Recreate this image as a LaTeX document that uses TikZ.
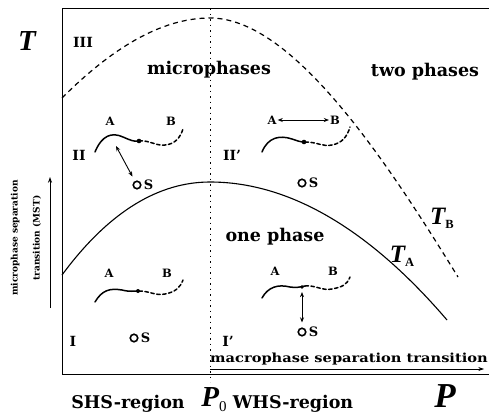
\documentclass[tikz,border=0pt]{standalone}
\usepackage{fontspec}
\setmainfont{DejaVu Serif}
\newfontfamily\symbolfont{Liberation Serif}
\usetikzlibrary{
    arrows.meta,
    positioning
}

\begin{document}
\begin{tikzpicture}[
        x=1pt, y=-1pt,
        every node/.style={font=\bfseries\fontsize{13pt}{15pt}\selectfont, inner sep=1pt},
        phase/.style={font=\bfseries\fontsize{17.5pt}{20pt}\selectfont},
        region/.style={font=\bfseries\fontsize{17.5pt}{20pt}\selectfont},
        roman/.style={font=\bfseries\fontsize{14pt}{16pt}\selectfont},
        monomer/.style={font=\bfseries\fontsize{11.5pt}{13pt}\selectfont},
        bigsym/.style={font=\symbolfont\bfseries\itshape\fontsize{29pt}{32pt}\selectfont},
        curvelabel/.style={font=\symbolfont\bfseries\itshape\fontsize{25pt}{28pt}\selectfont},
        sidelabel/.style={
            rotate=90,
            align=center,
            font=\bfseries\fontsize{9pt}{22pt}\selectfont
        },
        solvent/.style={
            circle,
            draw,
            line width=1.6pt,
            minimum size=7.5pt,
            inner sep=0pt
        },
        arrow/.style={
            {Stealth[length=1.8mm,width=1.4mm]}-{Stealth[length=1.8mm,width=1.4mm]},
            line width=0.9pt
        },
        axisarrow/.style={
            -{Stealth[length=2mm,width=1.4mm]},
            line width=0.9pt
        },
        chain/.style={line width=1.5pt, line cap=round},
        block/.style={chain, dash pattern=on 3.5pt off 2.5pt},
        boundary/.style={line width=1pt}
    ]

    \useasboundingbox (0,0) rectangle (489,415);

    % frame and axes
    \coordinate (origin) at (62,374);
    \coordinate (topleft) at (62,8);
    \coordinate (topright) at (489,8);
    \coordinate (bottomright) at (489,374);
    \draw[boundary] (bottomright) -- (origin) -- (topleft) -- (topright);

    \coordinate (ptop) at (210,8);
    \coordinate (pbottom) at (210,382);
    \draw[line width=0.8pt, dash pattern=on 1.5pt off 4pt] (ptop) -- (pbottom);

    % phase boundaries
    \draw[line width=1.2pt, dash pattern=on 5pt off 4pt]
        (62,98) .. controls (110,50) and (160,18) .. (210,18)
        .. controls (290,18) and (380,150) .. (458,277);
    \draw[line width=1.1pt]
        (62,275) .. controls (110,210) and (160,182) .. (210,182)
        .. controls (290,182) and (370,230) .. (447,320);

    \node[curvelabel] (tb) at (442,218)
        {T\raisebox{-4pt}{\fontsize{12.5pt}{12pt}\selectfont\upshape B}};
    \node[curvelabel] (ta) at (402,256)
        {T\raisebox{-4pt}{\fontsize{12.5pt}{12pt}\selectfont\upshape A}};

    % axis labels
    \node[bigsym] (taxis) at (27,41) {T};
    \node[bigsym, inner sep=0pt, font=\symbolfont\bfseries\itshape\fontsize{35pt}{38pt}\selectfont]
        (paxis) at (445,396) {P};
    \node[region] (shs) at (128,404) {SHS-region};
    \node[bigsym, font=\symbolfont\bfseries\itshape\fontsize{29pt}{32pt}\selectfont]
        (pzero) at (214,400) {P\raisebox{-5pt}{\fontsize{15pt}{15pt}\selectfont\upshape\mdseries 0}};
    \node[region] (whs) at (293,404) {WHS-region};

    \node[sidelabel] (mst) at (26,238) {microphase separation\\transition (MST)};
    \coordinate (mstlow) at (50,308);
    \coordinate (msthigh) at (50,177);
    \draw[axisarrow] (mstlow) -- (msthigh);

    \node[font=\bfseries\fontsize{12.5pt}{14pt}\selectfont, anchor=south west, inner sep=0pt]
        (macro) at (210,365) {\scalebox{1.17}[1]{macrophase separation transition}};
    \coordinate (macrolow) at (210,369);
    \coordinate (macrohigh) at (484,369);
    \draw[axisarrow, line width=0.7pt] (macrolow) -- (macrohigh);

    % region names
    \node[phase] (micro) at (209,70) {microphases};
    \node[phase] (twoph) at (425,72) {two phases};
    \node[phase] (oneph) at (275,237) {one phase};

    \node[roman] (rIII) at (83,42) {III};
    \node[roman] (rII) at (79,155) {II};
    \node[roman] (rIIp) at (232,155) {II'};
    \node[roman] (rI) at (73,341) {I};
    \node[roman] (rIp) at (228,341) {I'};

    % region II
    \node[monomer] (aII) at (110,121) {A};
    \node[monomer] (bII) at (171,121) {B};
    \draw[chain] (95,152) .. controls (102,135) and (112,132) .. (123,137)
        .. controls (130,140) and (134,142) .. (139,141);
    \fill (139,141) circle (2.3pt);
    \draw[block] (139,141) .. controls (150,140) and (155,146) .. (165,145)
        .. controls (175,144) and (180,138) .. (183,129);
    \node[solvent] (sII) at (137,185) {};
    \node[right=1pt of sII] (sIIlabel) {S};
    \coordinate (jII) at (116,146);
    \draw[arrow, shorten >=5pt] (jII) -- (sII);

    % region II'
    \node[monomer] (aIIp) at (272,120) {A};
    \node[monomer] (bIIp) at (335,120) {B};
    \draw[arrow] (aIIp) -- (bIIp);
    \draw[chain] (262,152) .. controls (268,137) and (280,135) .. (292,139)
        .. controls (298,141) and (300,142) .. (305,142);
    \fill (304,142) circle (2.3pt);
    \draw[block] (305,142) .. controls (318,142) and (322,147) .. (332,145)
        .. controls (342,143) and (347,137) .. (350,127);
    \node[solvent] (sIIp) at (302,183) {};
    \node[right=1pt of sIIp] (sIIplabel) {S};

    % region I
    \node[monomer] (aI) at (109,273) {A};
    \node[monomer] (bI) at (167,273) {B};
    \draw[chain] (95,302) .. controls (102,290) and (110,288) .. (122,290)
        .. controls (130,292) and (134,291) .. (139,291);
    \fill (138,291) circle (2pt);
    \draw[block] (139,291) .. controls (150,291) and (155,296) .. (165,294)
        .. controls (175,292) and (180,288) .. (183,280);
    \node[solvent] (sI) at (134,338) {};
    \node[right=1pt of sI] (sIlabel) {S};

    % region I'
    \node[monomer] (aIp) at (275,271) {A};
    \node[monomer] (bIp) at (333,271) {B};
    \draw[chain] (262,298) .. controls (268,287) and (278,284) .. (290,287)
        .. controls (296,288) and (300,287) .. (305,286);
    \fill (302,287) circle (1.8pt);
    \draw[block] (305,286) .. controls (316,285) and (322,291) .. (332,289)
        .. controls (342,287) and (347,285) .. (350,277);
    \node[solvent] (sIp) at (302,332) {};
    \node[right=1pt of sIp] (sIplabel) {S};
    \coordinate (jIp) at (302,292);
    \draw[arrow, shorten >=5pt] (jIp) -- (sIp);

\end{tikzpicture}
\end{document}
